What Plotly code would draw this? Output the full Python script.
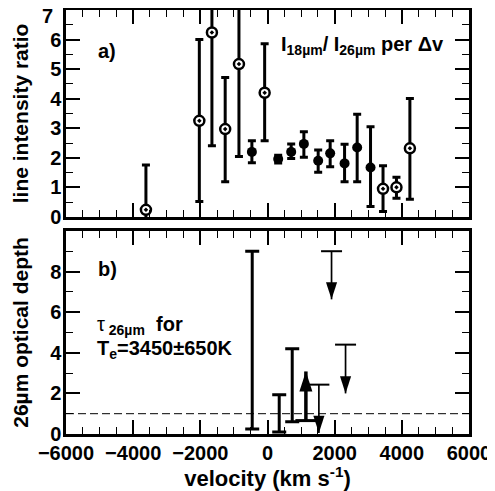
import plotly.graph_objects as go

# ---------------- data ----------------
# panel a) line intensity ratio, open (dotted) points
open_v = [-3620, -2030, -1655, -1260, -850, -85, 3440, 3840, 4240]
open_r = [0.24, 3.25, 6.24, 2.97, 5.17, 4.2, 0.95, 1.0, 2.32]
open_hi = [1.76, 6.0, 7.6, 4.72, 7.6, 5.86, 1.73, 1.34, 4.01]
open_lo = [-0.3, 0.52, 2.41, 1.19, 2.04, 2.58, 0.18, 0.63, 0.6]

# panel a) filled points
fill_v = [-465, 318, 705, 1083, 1509, 1866, 2295, 2670, 3068]
fill_r = [2.2, 1.96, 2.2, 2.47, 1.9, 2.15, 1.81, 2.35, 1.67]
fill_hi = [2.58, 2.09, 2.47, 2.88, 2.26, 2.58, 2.46, 3.47, 3.05]
fill_lo = [1.83, 1.82, 1.98, 2.02, 1.51, 1.7, 1.19, 1.19, 0.35]

# panel b) optical depth ranges
tau_bar_v = [-455, 349, 736]
tau_bar_lo = [0.25, 0.1, 0.6]
tau_bar_hi = [9.0, 1.93, 4.2]

# panel b) upper limits (down arrows)
ul_v = [1530, 1907, 2324]
ul_cap = [2.43, 9.0, 4.4]
ul_tip = [0.05, 6.63, 2.0]

# panel b) lower limit (up arrow)
ll_v = [1143]
ll_base = [0.66]
ll_tip = [3.08]

tau_ref = 1.0
x_range = [-6000, 6000]
x_ticks = [-6000, -4000, -2000, 0, 2000, 4000, 6000]
y1_ticks = [0, 1, 2, 3, 4, 5, 6]
y1_top = 7
y2_ticks = [0, 2, 4, 6, 8]

FONT = "Liberation Sans, Arial, Helvetica, sans-serif"

fig = go.Figure()

# ---- panel a ----
fig.add_trace(go.Scatter(
    x=fill_v, y=fill_r, mode="markers", xaxis="x", yaxis="y",
    marker=dict(symbol="circle", size=10, color="black"),
    error_y=dict(type="data", symmetric=False,
                 array=[h - r for h, r in zip(fill_hi, fill_r)],
                 arrayminus=[r - l for r, l in zip(fill_r, fill_lo)],
                 thickness=3, width=4, color="black"),
    showlegend=False))
fig.add_trace(go.Scatter(
    x=open_v, y=open_r, mode="markers", xaxis="x", yaxis="y",
    marker=dict(symbol="circle-dot", size=10, color="white",
                line=dict(color="black", width=2.5)),
    error_y=dict(type="data", symmetric=False,
                 array=[h - r for h, r in zip(open_hi, open_r)],
                 arrayminus=[r - l for r, l in zip(open_r, open_lo)],
                 thickness=3, width=4, color="black"),
    showlegend=False))

# ---- panel b ----
fig.add_trace(go.Scatter(
    x=x_range, y=[tau_ref, tau_ref], mode="lines", xaxis="x2", yaxis="y2",
    line=dict(color="black", width=1, dash="8px,4px"), showlegend=False))
fig.add_trace(go.Scatter(
    x=tau_bar_v, y=tau_bar_lo, mode="markers", xaxis="x2", yaxis="y2",
    marker=dict(size=1, color="rgba(0,0,0,0)"),
    error_y=dict(type="data", symmetric=False,
                 array=[h - l for h, l in zip(tau_bar_hi, tau_bar_lo)],
                 arrayminus=[0] * len(tau_bar_v),
                 thickness=3, width=7, color="black"),
    showlegend=False))

# down arrows (upper limits)
for v, c, t in zip(ul_v, ul_cap, ul_tip):
    fig.add_trace(go.Scatter(
        x=[v, v], y=[c, t], mode="lines", xaxis="x2", yaxis="y2",
        line=dict(color="black", width=1.7), showlegend=False))
fig.add_trace(go.Scatter(
    x=ul_v, y=ul_cap, mode="markers", xaxis="x2", yaxis="y2",
    marker=dict(symbol="line-ew", size=15, line=dict(color="black", width=2)),
    showlegend=False))
fig.add_trace(go.Scatter(
    x=ul_v, y=ul_tip, mode="markers", xaxis="x2", yaxis="y2",
    marker=dict(symbol="arrow", angle=180, size=18, color="black",
                line=dict(width=0)),
    showlegend=False))

# up arrow (lower limit)
for v, b, t in zip(ll_v, ll_base, ll_tip):
    fig.add_trace(go.Scatter(
        x=[v, v], y=[b, t], mode="lines", xaxis="x2", yaxis="y2",
        line=dict(color="black", width=3.5), showlegend=False))
fig.add_trace(go.Scatter(
    x=ll_v, y=ll_base, mode="markers", xaxis="x2", yaxis="y2",
    marker=dict(symbol="line-ew", size=15, line=dict(color="black", width=3)),
    showlegend=False))
fig.add_trace(go.Scatter(
    x=ll_v, y=ll_tip, mode="markers", xaxis="x2", yaxis="y2",
    marker=dict(symbol="arrow", angle=0, size=21, color="black",
                line=dict(width=0)),
    showlegend=False))

ann_font = dict(family=FONT, size=20, color="black", weight="bold")
annotations = [
    # top tick label of panel a (drawn as annotation so it is not cut at the page edge)
    dict(x=0, y=y1_top, xref="paper", yref="y", text=str(y1_top), showarrow=False,
         xanchor="right", yanchor="middle", xshift=-11, yshift=-6, font=ann_font),
    dict(x=-4780, y=5.6, xref="x", yref="y", text="a)", showarrow=False, font=ann_font),
    dict(x=2840, y=5.8, xref="x", yref="y",
         text="I<sub>18µm</sub>/ I<sub>26µm</sub> per Δv", showarrow=False, font=ann_font),
    dict(x=-4750, y=8.1, xref="x2", yref="y2", text="b)", showarrow=False, font=ann_font),
    dict(x=-5130, y=5.35, xref="x2", yref="y2", xanchor="left",
         text="<span style='font-weight:normal'>τ</span><sub> 26µm</sub>  for",
         showarrow=False, font=ann_font),
    dict(x=-5130, y=4.15, xref="x2", yref="y2", xanchor="left",
         text="T<sub>e</sub>=3450±650K", showarrow=False, font=ann_font),
]

axis_common = dict(
    showline=True, linecolor="black", linewidth=2.5, mirror="allticks",
    ticks="inside", ticklen=14, tickwidth=1.5, tickcolor="black",
    showgrid=False, zeroline=False, automargin=False, ticklabeloverflow="allow",
    tickfont=dict(family=FONT, size=20, color="black", weight="bold"),
)
minor_common = dict(ticklen=7, tickwidth=1.2, tickcolor="black", ticks="inside")
title_font = dict(family=FONT, size=21, color="black", weight="bold")

# the page adds an 8px body margin, so the figure is sized/offset to compensate
fig.update_layout(
    width=487, height=483,
    margin=dict(l=58, r=26, t=2, b=57),
    paper_bgcolor="white", plot_bgcolor="white",
    font=dict(family=FONT, color="black"),
    xaxis=dict(**axis_common, range=x_range, anchor="y", tickvals=x_ticks,
               showticklabels=False, minor=dict(dtick=500, **minor_common)),
    yaxis=dict(**axis_common, range=[0, 7], domain=[0.512, 1], anchor="x",
               tickvals=y1_ticks + [y1_top], ticktext=[str(t) for t in y1_ticks] + [""],
               minor=dict(dtick=0.5, **minor_common),
               ticklabelstandoff=-2,
               title=dict(text="line intensity ratio", standoff=16, font=title_font)),
    xaxis2=dict(**axis_common, range=x_range, anchor="y2", tickvals=x_ticks,
                minor=dict(dtick=500, **minor_common), ticklabelstandoff=-1,
                title=dict(text="velocity (km s<sup>-1</sup>)", standoff=2,
                           font=dict(family=FONT, size=22, color="black", weight="bold"))),
    yaxis2=dict(**axis_common, range=[0, 10], domain=[0, 0.479], anchor="x2",
                tickvals=y2_ticks, minor=dict(dtick=1, **minor_common),
                ticklabelstandoff=-2,
                title=dict(text="26µm optical depth", standoff=16, font=title_font)),
    annotations=annotations,
)

fig.write_html("out.html")
